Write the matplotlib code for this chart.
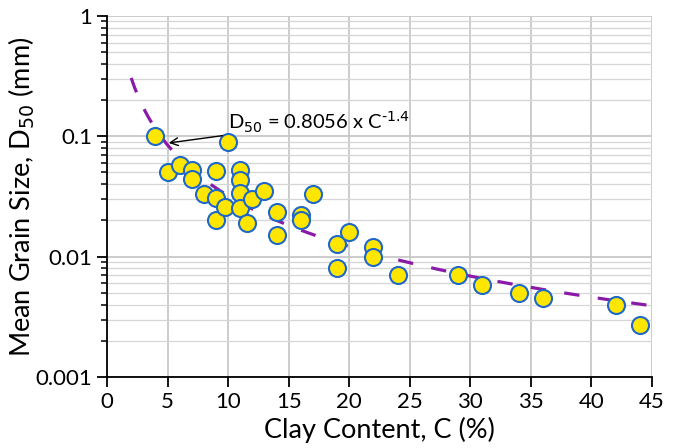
import matplotlib
matplotlib.use("Agg")
import matplotlib.pyplot as plt
import numpy as np
from matplotlib.ticker import FixedLocator, FuncFormatter, LogLocator, NullFormatter

plt.rcParams['font.family'] = ['Lato', 'DejaVu Sans']

# Measured samples: clay content (%) and mean grain size D50 (mm)
clay_pct = [4, 5, 6, 7, 7, 8, 9, 9, 9, 9.75, 10, 11, 11, 11, 11, 12, 11.6,
            13, 14, 14, 16, 16, 17, 19, 19, 20, 22, 22, 24, 29, 31, 34, 36, 42, 44]
d50_mm = [0.100, 0.0505, 0.058, 0.052, 0.044, 0.033, 0.051, 0.0305, 0.0202, 0.026,
          0.090, 0.052, 0.043, 0.034, 0.0255, 0.030, 0.019,
          0.0354, 0.0233, 0.0152, 0.0222, 0.0200, 0.033, 0.0128, 0.0080, 0.0161,
          0.0121, 0.0100, 0.0070, 0.0070, 0.0058, 0.0050, 0.0045, 0.0040, 0.0027]

# Power-law fit D50 = a * C^b
fit_a = 0.8056
fit_b = -1.4
fit_range = (2, 45)

x_ticks = [0, 5, 10, 15, 20, 25, 30, 35, 40, 45]
y_ticks = [0.001, 0.01, 0.1, 1]
y_tick_labels = ["0.001", "0.01", "0.1", "1"]

fig = plt.figure(figsize=(6.77, 4.48), dpi=100)
ax = fig.add_axes([0.158, 0.1585, 0.805, 0.806])

ax.set_yscale('log')
ax.set_xlim(0, 45)
ax.set_ylim(0.001, 1)

# grid
ax.xaxis.set_major_locator(FixedLocator(x_ticks))
ax.yaxis.set_major_locator(FixedLocator(y_ticks))
ax.yaxis.set_minor_locator(LogLocator(base=10, subs=np.arange(2, 10)))
ax.yaxis.set_minor_formatter(NullFormatter())
ax.yaxis.set_major_formatter(FuncFormatter(lambda v, p: dict(zip(y_ticks, y_tick_labels)).get(v, "")))
ax.grid(True, which='major', axis='both', color='#c4c4c4', lw=1.2, zorder=0)
ax.grid(True, which='minor', axis='y', color='#d6d6d6', lw=0.9, zorder=0)
ax.set_axisbelow(True)

# fit curve
xf = np.linspace(fit_range[0], fit_range[1], 300)
ax.plot(xf, fit_a * xf ** fit_b, color='#8a1ba8', lw=2.3, dashes=(4.8, 5.8), zorder=2)

# data points
ax.scatter(clay_pct, d50_mm, s=150, facecolor='#ffe600', edgecolor='#1f68c8',
           linewidths=1.5, zorder=3)

# equation label with arrow to the curve
ax.annotate(r"D$_{50}$ = 0.8056 x C$^{\text{-}1.4}$", xy=(5.1, 0.088), xytext=(10.0, 0.13),
            fontsize=14.5, va='center', ha='left',
            arrowprops=dict(arrowstyle='->', color='black', lw=1.0,
                            shrinkA=2, shrinkB=0, mutation_scale=14),
            zorder=4)

for s in ['top', 'right']:
    ax.spines[s].set_visible(False)
for s in ['left', 'bottom']:
    ax.spines[s].set_linewidth(1.3)
    ax.spines[s].set_color('black')

ax.tick_params(axis='both', which='major', direction='out', length=7, width=1.3,
               labelsize=16, color='black')
ax.tick_params(axis='y', which='minor', direction='out', length=4.5, width=1.1)

ax.set_xlabel("Clay Content, C (%)", fontsize=19.5, labelpad=4)
ax.set_ylabel("Mean Grain Size, D$_{50}$ (mm)", fontsize=19.5, labelpad=-1)

fig.savefig("out.png", dpi=100)
